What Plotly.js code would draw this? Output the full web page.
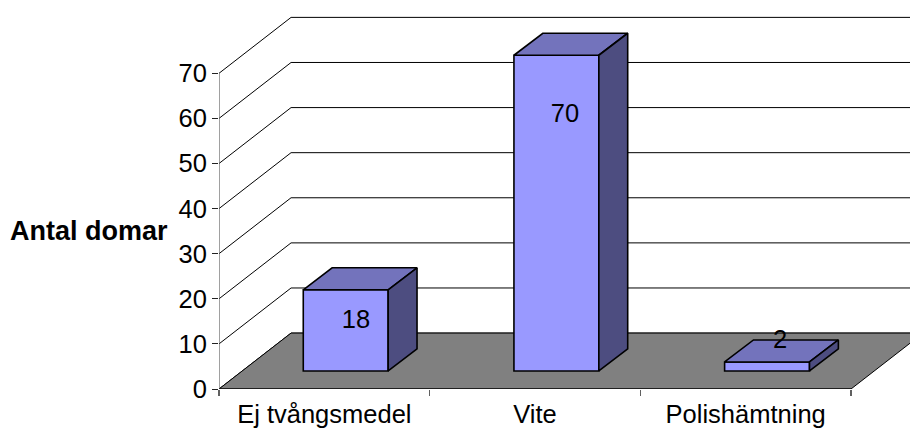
<!DOCTYPE html>
<html>
<head>
<meta charset="utf-8">
<script src="https://cdn.plot.ly/plotly-3.0.1.min.js"></script>
<style>html,body{margin:0;padding:0;background:#fff;overflow:hidden}#c{width:910px;height:428px}</style>
</head>
<body>
<div id="c"></div>
<script>
const categories = ["Ej tvångsmedel", "Vite", "Polishämtning"];
const values = [18, 70, 2];
const yTicks = [0, 10, 20, 30, 40, 50, 60, 70];
const labelX = [0.65, 1.642, 2.663];
const labelHeights = [14.85, 60.55, 10.45];

const FONT = '"Liberation Sans", Arial, sans-serif';
const wallDX = 0.342, wallDY = 12.4;
const barW = 0.403, barLeft = 0.4, barBase = 4, barDX = 0.137, barDY = 4.88;
const FRONT = '#9999FF', TOP = '#7373BC', SIDE = '#4D4D80', FLOOR = '#808080';
const lastX = 3 + wallDX;

function poly(pts) {
  return 'M' + pts.map(p => p[0] + ',' + p[1]).join('L') + 'Z';
}
const shapes = [];
yTicks.forEach(v => {
  shapes.push({type: 'path', layer: 'below', xref: 'x', yref: 'y',
    path: 'M0,' + v + 'L' + wallDX + ',' + (v + wallDY) + 'L' + lastX + ',' + (v + wallDY),
    line: {color: '#000', width: 1}});
});
shapes.push({type: 'path', layer: 'below', xref: 'x', yref: 'y',
  path: poly([[0, 0], [wallDX, wallDY], [lastX, wallDY], [3, 0]]),
  fillcolor: FLOOR, line: {color: '#000', width: 1}});

const traces = [];
traces.push({type: 'bar', x: categories.map((c, i) => i + barLeft + barW / 2), y: values,
  base: values.map(() => barBase), width: barW,
  marker: {color: FRONT, line: {color: '#000', width: 1.6}}, hoverinfo: 'skip'});

function face(pts, color) {
  traces.push({type: 'scatter', mode: 'lines', x: pts.map(p => p[0]), y: pts.map(p => p[1]),
    fill: 'toself', fillcolor: color, line: {color: '#000', width: 1.6}, hoverinfo: 'skip'});
}
values.forEach((v, i) => {
  const l = i + barLeft, r = l + barW, b = barBase, t = barBase + v;
  face([[l, t], [r, t], [r + barDX, t + barDY], [l + barDX, t + barDY], [l, t]], TOP);
  face([[r, b], [r, t], [r + barDX, t + barDY], [r + barDX, b + barDY], [r, b]], SIDE);
});
traces.push({type: 'scatter', mode: 'text', x: labelX, y: labelHeights,
  text: values.map(String), textposition: 'middle center',
  textfont: {family: FONT, size: 25.5, color: '#000'}, hoverinfo: 'skip'});
traces.push({type: 'scatter', mode: 'lines', x: [0, 0], y: [0, 70], cliponaxis: false,
  line: {color: '#606060', width: 1.2}, hoverinfo: 'skip'});
traces.push({type: 'scatter', mode: 'lines', x: [0, 3], y: [0, 0], cliponaxis: false,
  line: {color: '#000', width: 1.2}, hoverinfo: 'skip'});

const layout = {
  width: 910, height: 428, showlegend: false, barmode: 'overlay',
  margin: {l: 219, r: 0, t: 0, b: 39},
  paper_bgcolor: '#fff', plot_bgcolor: '#fff',
  font: {family: FONT, size: 25.5, color: '#000'},
  xaxis: {range: [0, 691 / 210.67], showgrid: false, zeroline: false, showline: false,
    tickmode: 'array', tickvals: categories.map((c, i) => i + 0.5), ticktext: categories,
    ticks: '', tickfont: {family: FONT, size: 25.5, color: '#000'}, ticklabelstandoff: 7,
    minor: {tickmode: 'array', tickvals: [0, 1, 2, 3], ticks: 'outside', ticklen: 6,
      tickcolor: '#606060', tickwidth: 1.2, showgrid: false}},
  yaxis: {range: [0, 389 / 4.51], showgrid: false, zeroline: false, showline: false,
    tickmode: 'array', tickvals: yTicks, ticks: 'outside', ticklen: 6,
    tickcolor: '#222222', tickwidth: 1, tickfont: {family: FONT, size: 25.5, color: '#000'}},
  shapes: shapes,
  annotations: [{text: '<b>Antal domar</b>', xref: 'paper', yref: 'paper', showarrow: false,
    x: -130.5 / 691, y: (389 - 231) / 389, xanchor: 'center', yanchor: 'middle',
    font: {family: FONT, size: 27, color: '#000'}}]
};
Plotly.newPlot('c', traces, layout, {displayModeBar: false, staticPlot: true});
</script>
</body>
</html>
